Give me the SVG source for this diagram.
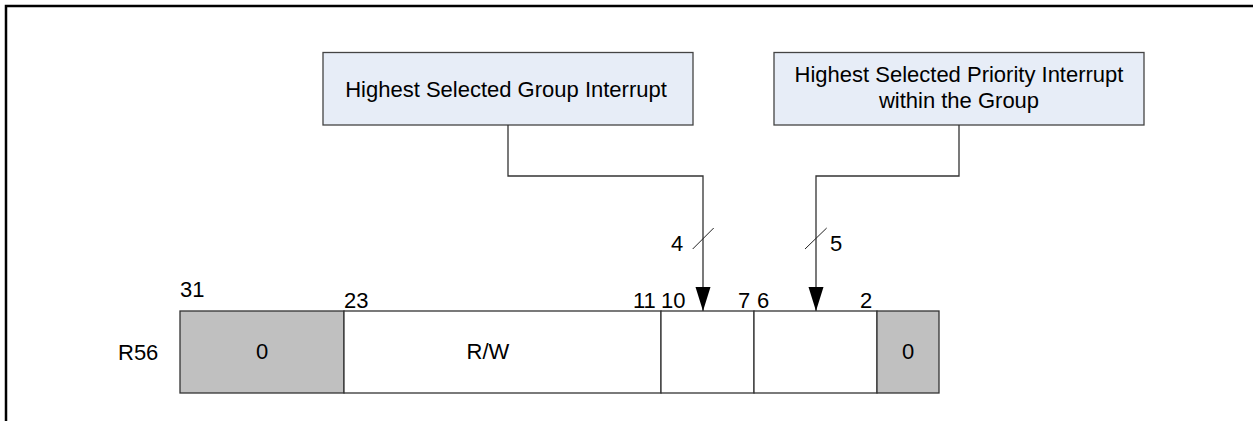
<svg xmlns="http://www.w3.org/2000/svg" width="1253" height="421" viewBox="0 0 1253 421">
<defs>
<style>
text{font-family:"Liberation Sans",Arial,sans-serif;font-size:22px;fill:#000}
.box{fill:#E7EDF7;stroke:#444;stroke-width:1.3}
.gray{fill:#C0C0C0;stroke:#333;stroke-width:1.3}
.white{fill:#FFFFFF;stroke:#333;stroke-width:1.3}
.conn{fill:none;stroke:#333;stroke-width:1.3}
.slash{fill:none;stroke:#222;stroke-width:1}
.mid{text-anchor:middle}
</style>
<marker id="arr" markerUnits="userSpaceOnUse" markerWidth="24" markerHeight="16" refX="24" refY="8" orient="auto" viewBox="0 0 24 16">
<path d="M0,0.5 L24,8 L0,15.5 Z" fill="#000"/>
</marker>
</defs>
<g id="frame">
<path d="M6,421 L6,6 L1253,6" fill="none" stroke="#000" stroke-width="2.5"/>
</g>
<g id="node-group">
<rect class="box" x="323" y="52.5" width="370" height="72.5"/>
<text class="mid" x="506" y="96.5">Highest Selected Group Interrupt</text>
</g>
<g id="node-priority">
<rect class="box" x="774" y="52.5" width="370" height="72.5"/>
<text class="mid" x="959" y="82">Highest Selected Priority Interrupt</text>
<text class="mid" x="959" y="108">within the Group</text>
</g>
<g id="register">
<text x="118" y="360">R56</text>
<rect class="gray" x="180" y="311" width="164" height="82"/>
<rect class="white" x="344" y="311" width="317" height="82"/>
<rect class="white" x="661" y="311" width="93" height="82"/>
<rect class="white" x="754" y="311" width="123" height="82"/>
<rect class="gray" x="877" y="311" width="62" height="82"/>
<text class="mid" x="262" y="359">0</text>
<text class="mid" x="488" y="359">R/W</text>
<text class="mid" x="908" y="359">0</text>
<text x="180" y="297">31</text>
<text x="344" y="308">23</text>
<text x="633" y="308">11</text>
<text x="661" y="308">10</text>
<text x="738" y="308">7</text>
<text x="757" y="308">6</text>
<text x="860" y="308">2</text>
</g>
<g id="connectors">
<path class="conn" d="M508,125 L508,176 L703,176 L703,311" marker-end="url(#arr)"/>
<path class="conn" d="M959,125 L959,176 L816,176 L816,311" marker-end="url(#arr)"/>
<path class="slash" d="M692.7,249 L713.7,228"/>
<path class="slash" d="M805,249 L826.7,228"/>
<text x="671" y="251">4</text>
<text x="830" y="251">5</text>
</g>
</svg>
